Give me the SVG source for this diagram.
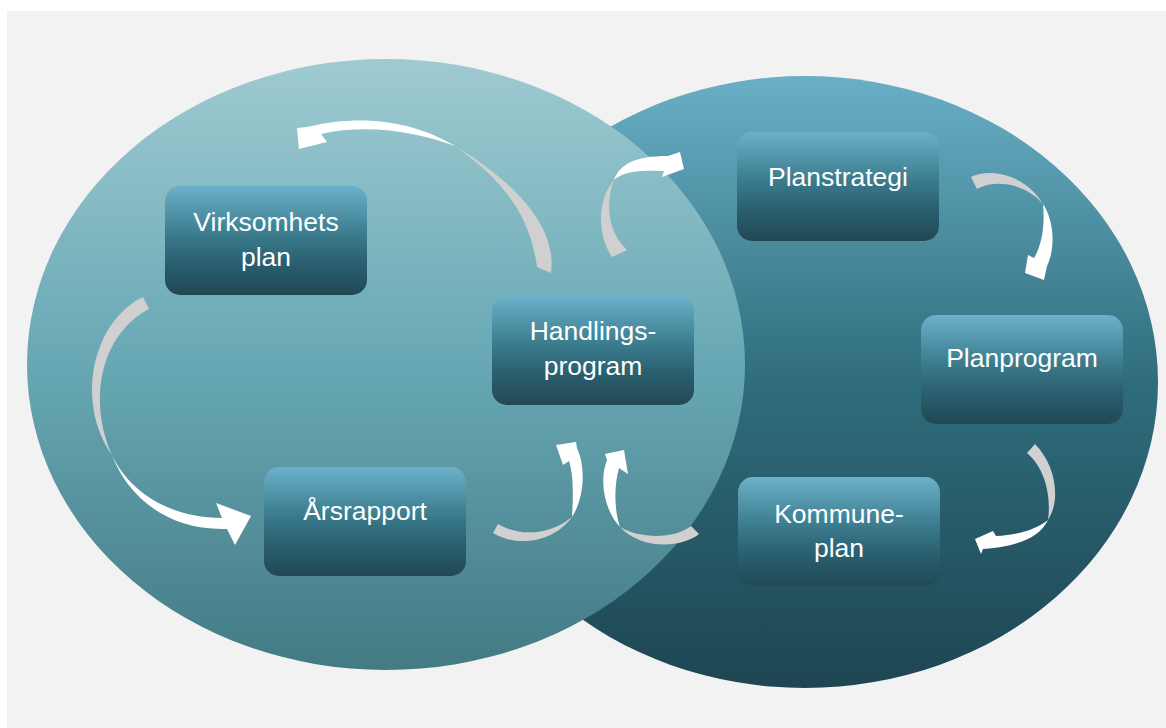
<svg xmlns="http://www.w3.org/2000/svg" width="1166" height="728" viewBox="0 0 1166 728">
<defs>
<linearGradient id="gL" x1="0" y1="0" x2="0" y2="1">
<stop offset="0" stop-color="#9fcad1"/>
<stop offset="0.5" stop-color="#67a8b4"/>
<stop offset="1" stop-color="#437a84"/>
</linearGradient>
<linearGradient id="gR" x1="0" y1="0" x2="0" y2="1">
<stop offset="0" stop-color="#6aafc6"/>
<stop offset="0.5" stop-color="#2f6d7c"/>
<stop offset="1" stop-color="#1e4552"/>
</linearGradient>
<linearGradient id="gBox" x1="0" y1="0" x2="0" y2="1">
<stop offset="0" stop-color="#6cb1ca"/>
<stop offset="0.45" stop-color="#3a7b8c"/>
<stop offset="0.7" stop-color="#2a6070"/>
<stop offset="1" stop-color="#224854"/>
</linearGradient>
<style>
.box{fill:url(#gBox);}
.lbl{font-family:"Liberation Sans",Arial,sans-serif;font-size:26.5px;fill:#ffffff;text-anchor:middle;}
.tail{fill:#d0d0d0;}
.head{fill:#ffffff;}
</style>
</defs>
<rect x="0" y="0" width="1166" height="728" fill="#ffffff"/>
<rect x="7" y="11" width="1159" height="717" fill="#f2f2f2"/>
<ellipse id="right-ellipse" cx="805" cy="382" rx="353" ry="306" fill="url(#gR)"/>
<ellipse id="left-ellipse" cx="386" cy="364.5" rx="359" ry="305.5" fill="url(#gL)"/>

<g id="connectors">
<g id="arrow-handlings-virksomhets">
<path class="tail" d="M551,273 C557,230 520,185 455,146 C503,180 530,215 537,267 Z"/>
<path class="head" d="M455,146 C420,125 370,112 307,127 L297,128 L299,149 L327,142 L321,134 C370,123 420,133 455,146 Z"/>
</g>
<g id="arrow-virksomhets-arsrapport">
<path class="tail" d="M143,297 C94,320 74,400 112,455 C88,400 100,335 149,309 Z"/>
<path class="head" d="M112,455 C125,490 160,529 223,529 L227,529 L235,545 L251,516 L216,503 L222,518 C168,518 128,490 112,455 Z"/>
</g>
<g id="arrow-handlings-planstrategi">
<path class="tail" d="M612,257 C597,235 597,200 614,180 C606,200 606,230 627,250 Z"/>
<path class="head" d="M614,180 C620,164 635,156 668,156 L680,152 L684,169 L662,177 L664,171 C640,170 624,171 614,180 Z"/>
</g>
<g id="arrow-planstrategi-planprogram">
<path class="tail" d="M971,177 C990,167 1026,175 1043,204 C1025,183 995,179 977,189 Z"/>
<path class="head" d="M1043,204 C1055,222 1055,250 1047,266 L1044,280 L1025,273 L1028,255 L1034,258 C1042,245 1045,225 1043,204 Z"/>
</g>
<g id="arrow-planprogram-kommuneplan">
<path class="tail" d="M1035,444 C1056,465 1061,500 1048,520 C1051,500 1047,470 1027,453 Z"/>
<path class="head" d="M1048,520 C1038,541 1010,547 983,549 L981,554 L975,539 L993,531 L996,536 C1015,535 1034,531 1048,520 Z"/>
</g>
<g id="arrow-arsrapport-handlings">
<path class="tail" d="M493,533 C520,549 556,540 572,517 C550,535 520,537 498,524 Z"/>
<path class="head" d="M572,517 C583,500 587,470 577,448 L576,442 L556,445 L563,465 L569,461 C574,476 573,500 572,517 Z"/>
</g>
<g id="arrow-kommuneplan-handlings">
<path class="tail" d="M699,534 C680,549 640,549 620,527 C640,539 675,539 691,526 Z"/>
<path class="head" d="M620,527 C604,510 599,480 607,460 L605,454 L624,450 L628,474 L619,468 C614,485 614,510 620,527 Z"/>
</g>
</g>

<g id="node-virksomhetsplan">
<rect class="box" x="165" y="186" width="202" height="109" rx="15"/>
<text class="lbl" x="266" y="231">Virksomhets</text>
<text class="lbl" x="266" y="266">plan</text>
</g>
<g id="node-handlingsprogram">
<rect class="box" x="492" y="296" width="202" height="109" rx="15"/>
<text class="lbl" x="593" y="340">Handlings-</text>
<text class="lbl" x="593" y="375">program</text>
</g>
<g id="node-arsrapport">
<rect class="box" x="264" y="467" width="202" height="109" rx="15"/>
<text class="lbl" x="365" y="520">Årsrapport</text>
</g>
<g id="node-planstrategi">
<rect class="box" x="737" y="132" width="202" height="109" rx="15"/>
<text class="lbl" x="838" y="186">Planstrategi</text>
</g>
<g id="node-planprogram">
<rect class="box" x="921" y="315" width="202" height="109" rx="15"/>
<text class="lbl" x="1022" y="367">Planprogram</text>
</g>
<g id="node-kommuneplan">
<rect class="box" x="738" y="477" width="202" height="109" rx="15"/>
<text class="lbl" x="839" y="523">Kommune-</text>
<text class="lbl" x="839" y="557">plan</text>
</g>
</svg>
